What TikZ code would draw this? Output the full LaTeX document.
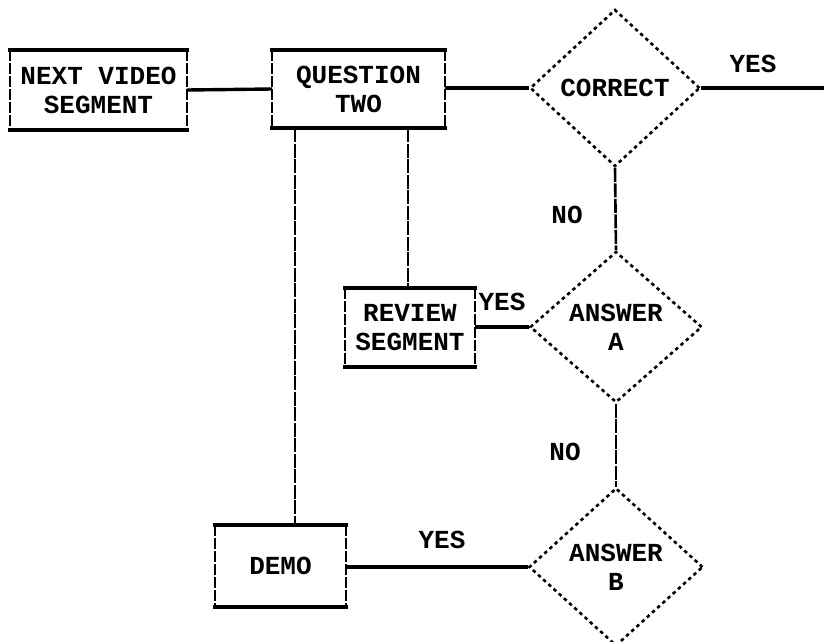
\documentclass[tikz,border=0pt]{standalone}
\usepackage{fontspec}
\newfontfamily\pixfont{Liberation Mono}
\usetikzlibrary{shapes.geometric}
\tikzset{
  lbl/.style={font=\pixfont\bfseries\fontsize{26}{29}\selectfont, align=center, inner sep=0pt},
  boxnode/.style={lbl, rectangle, draw=none},
  diam/.style={lbl, shape=diamond, draw, line width=2.6pt, dash pattern=on 3.5pt off 3.5pt},
  hbar/.style={line width=3.6pt, line cap=rect},
  vside/.style={line width=2.2pt, dash pattern=on 11pt off 2pt},
  conn/.style={line width=3.4pt},
  vconn/.style={line width=2.6pt, dash pattern=on 14pt off 1.5pt},
}
\newcommand{\myboxframe}[1]{%
  \draw[hbar] (#1.north west) -- (#1.north east);
  \draw[hbar] (#1.south west) -- (#1.south east);
  \draw[vside] (#1.north west) -- (#1.south west);
  \draw[vside] (#1.north east) -- (#1.south east);
}
\begin{document}
\begin{tikzpicture}[x=1pt,y=-1pt]
\useasboundingbox (0,0) rectangle (824,642);

% boxes
\node[boxnode, minimum width=177pt, minimum height=80pt] (next) at (98.5,90) {NEXT VIDEO\\SEGMENT};
\node[boxnode, minimum width=173pt, minimum height=78pt] (quest) at (358.5,89) {QUESTION\\TWO};
\node[boxnode, minimum width=130pt, minimum height=79pt] (review) at (410,327.5) {REVIEW\\SEGMENT};
\node[boxnode, minimum width=131pt, minimum height=82pt] (demo) at (280.5,566) {DEMO};
\myboxframe{next}
\myboxframe{quest}
\myboxframe{review}
\myboxframe{demo}

% diamonds
\node[diam, minimum width=170pt, minimum height=157pt] (correct) at (615,88) {CORRECT};
\node[diam, minimum width=172pt, minimum height=151pt] (ansa) at (616,327) {ANSWER\\A};
\node[diam, minimum width=174pt, minimum height=158pt] (ansb) at (616,567) {ANSWER\\B};

% labels
\node[lbl] (yes1) at (753,64) {YES};
\node[lbl] (no1) at (567,215) {NO};
\node[lbl] (yes2) at (502,302) {YES};
\node[lbl] (no2) at (565,452) {NO};
\node[lbl] (yes3) at (442,540) {YES};

% free end and branch points
\coordinate (outend) at (824,88);
\coordinate (xdemo) at (295,0);
\coordinate (xrev) at (408,0);

% connectors
\draw[conn] (next.east) -- (quest.west);
\draw[conn] (quest.east |- correct.west) -- (correct.west);
\draw[conn] (correct.east) -- (outend);
\draw[vconn] (correct.south) -- (ansa.north);
\draw[conn] (review.east |- ansa.west) -- (ansa.west);
\draw[vconn] (ansa.south) -- (ansb.north);
\draw[conn] (demo.east |- ansb.west) -- (ansb.west);
\draw[vconn] (quest.south -| xdemo) -- (demo.north -| xdemo);
\draw[vconn] (quest.south -| xrev) -- (review.north -| xrev);
\end{tikzpicture}
\end{document}
